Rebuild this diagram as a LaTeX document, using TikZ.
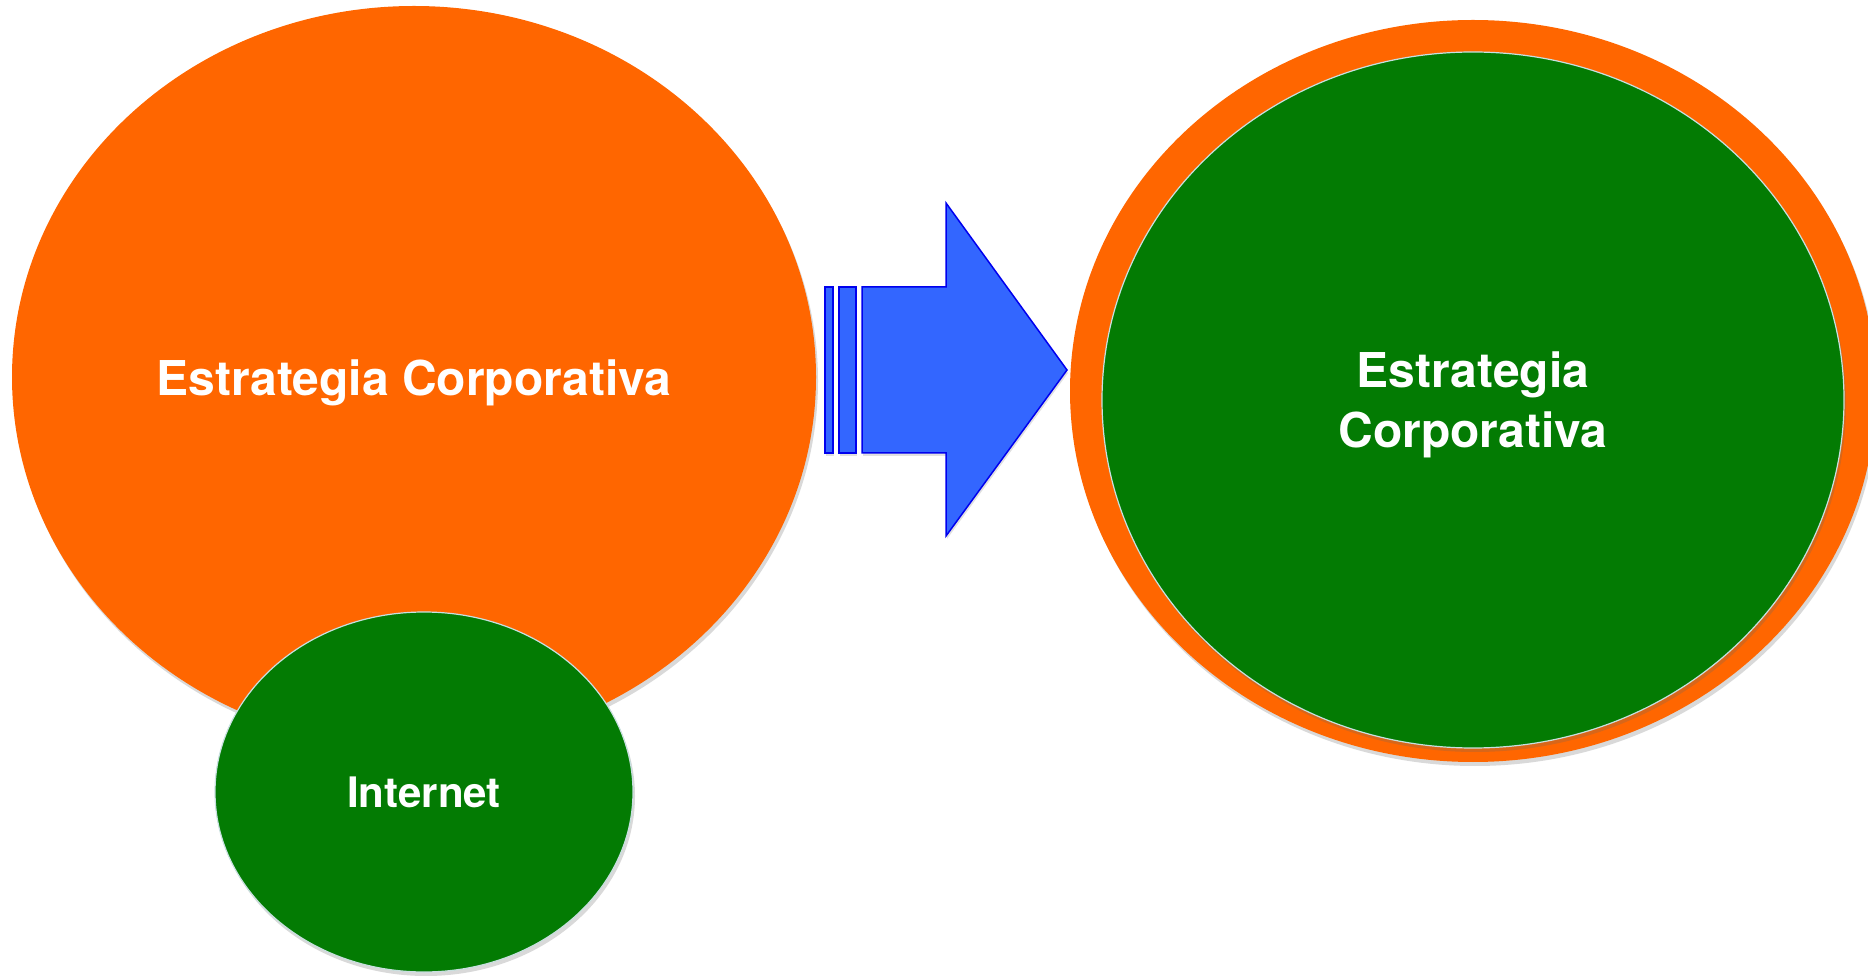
\documentclass[tikz,border=0pt]{standalone}
\usepackage{fontspec}
\setmainfont{TeX Gyre Heros}
\usepackage{xcolor}
\usetikzlibrary{shapes.geometric,shadows}

\definecolor{orangeFill}{HTML}{FF6600}
\definecolor{greenFill}{HTML}{037B03}
\definecolor{blueFill}{HTML}{3366FF}
\definecolor{blueLine}{HTML}{0000EE}
\definecolor{rimLine}{HTML}{C8E0E0}

\tikzset{
  blob/.style={ellipse, inner sep=0pt, text=white, align=center,
    font=\bfseries\fontsize{48}{60}\selectfont,
    drop shadow={shadow xshift=2pt, shadow yshift=-4pt, opacity=0.25, fill=black!60}},
  orangeblob/.style={blob, fill=orangeFill},
  greenblob/.style={blob, fill=greenFill, draw=rimLine, line width=1.2pt},
  arrowpart/.style={fill=blueFill, draw=blueLine, line width=1.5pt, line join=miter,
    drop shadow={shadow xshift=1pt, shadow yshift=-3pt, opacity=0.2, fill=black!60}}
}

\begin{document}
\begin{tikzpicture}[x=1pt,y=1pt]

	\useasboundingbox (0,0) rectangle (1868,975);

	% left side
	\node[orangeblob, minimum width=804pt, minimum height=742pt] (strat) at (414,598) {};
	\node[text=white, font=\bfseries\fontsize{48}{60}\selectfont] (stratlabel) at (strat.center) [yshift=-6pt] {Estrategia Corporativa};
	\node[greenblob, minimum width=418pt, minimum height=360pt,
	      font=\bfseries\fontsize{42}{50}\selectfont] (net) at (424,183) {Internet};

	% arrow
	\draw[arrowpart] (825,522) rectangle (833,688);
	\draw[arrowpart] (839,522) rectangle (856,688);
	\draw[arrowpart] (862,522) -- (946,522) -- (946,439) -- (1067,605)
	    -- (946,772) -- (946,688) -- (862,688) -- cycle;

	% right side
	\node[orangeblob, minimum width=806pt, minimum height=742pt] (outer) at (1473,584) {};
	\node[greenblob, minimum width=742pt, minimum height=696pt] (inner) at (1473,575) {};
	\node[text=white, align=center, font=\bfseries\fontsize{48}{60}\selectfont] (label) at (1473,570) {Estrategia\\Corporativa};

\end{tikzpicture}
\end{document}
